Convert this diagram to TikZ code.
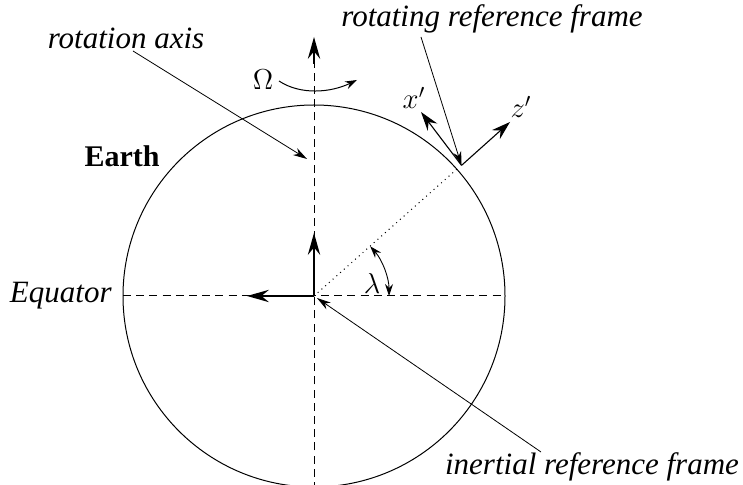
\documentclass[tikz,border=0pt]{standalone}
\usepackage{fontspec}
\setmainfont{Liberation Serif}
\usetikzlibrary{arrows.meta}
\begin{document}
\begin{tikzpicture}[x=0.5pt,y=-0.5pt,
  lbl/.style={inner sep=0pt,font=\fontsize{15.5}{18}\selectfont\itshape},
  mathlbl/.style={inner sep=0pt,font=\fontsize{14.5}{16}\selectfont},
  axisline/.style={dash pattern=on 4pt off 2.6pt,line width=0.5pt},
  bigarrow/.style={-{Stealth[length=11pt,width=6.2pt,inset=3.8pt]},line width=0.6pt},
  framearrow/.style={-{Stealth[length=9.5pt,width=6pt,inset=3.2pt]},line width=0.55pt},
  leader/.style={-{Stealth[length=7pt,width=4pt,inset=2.2pt]},line width=0.4pt},
  twohead/.style={{Stealth[length=6pt,width=4pt,inset=2pt]}-{Stealth[length=6pt,width=4pt,inset=2pt]},line width=0.45pt},
  onehead/.style={-{Stealth[length=6pt,width=4pt,inset=2pt]},line width=0.5pt}]
\useasboundingbox (0,0) rectangle (743,485);
% points
\coordinate (O) at (314,296);
\coordinate (P) at (461.5,165.4);
\coordinate (Ptop) at (314,37);
\coordinate (Pbot) at (314,490);
\coordinate (EqL) at (123,296);
\coordinate (EqR) at (505,296);
\coordinate (Up) at (314,233);
\coordinate (Left) at (247,296);
\coordinate (Xt) at (421,112);
\coordinate (Zt) at (510,122);
\coordinate (D) at (457,169);
% earth
\draw[line width=0.5pt] (O) circle [radius=95.5pt];
% axes
\draw[axisline] (Pbot) -- (314,62);
\draw[bigarrow] (314,64) -- (Ptop);
\draw[axisline] (EqL) -- (EqR);
\draw[bigarrow] (O) -- (Up);
\draw[bigarrow] (O) -- (Left);
\draw[dotted,line width=0.5pt] (O) -- (D);
% rotating frame
\draw[framearrow] (P) -- (Xt);
\draw[framearrow] (P) -- (Zt);
% lambda arc
\draw[twohead] (370.2,246.3) coordinate (La) arc[start angle=-41.5,end angle=0,radius=75] coordinate (Lb);
% Omega arrow
\draw[onehead] (279,81) .. controls (300,95) and (330,93) .. (357,80);
% labels
\node[lbl] (ra) at (126,38) {rotation axis};
\node[lbl] (rf) at (492,19) {rotating reference frame};
\node[lbl] (ir) at (592,467) {inertial reference frame};
\node[lbl,anchor=east] (eq) at (112,296) {Equator};
\node[inner sep=0pt,font=\fontsize{15}{18}\selectfont\bfseries] (ea) at (122,156) {Earth};
\node[mathlbl] (om) at (263,80) {$\Omega$};
\node[mathlbl] (xl) at (414,98) {$x'$};
\node[mathlbl] (zl) at (521,107) {$z'$};
\node[mathlbl] (la) at (372,284) {$\lambda$};
% leaders
\coordinate (r1) at (133,51);
\coordinate (r1t) at (307,159);
\coordinate (r2) at (421,37);
\coordinate (r3) at (541,452);
\coordinate (r3t) at (317,298);
\draw[leader] (r1) -- (r1t);
\draw[leader] (r2) -- (P);
\draw[leader] (r3) -- (r3t);
\end{tikzpicture}
\end{document}
